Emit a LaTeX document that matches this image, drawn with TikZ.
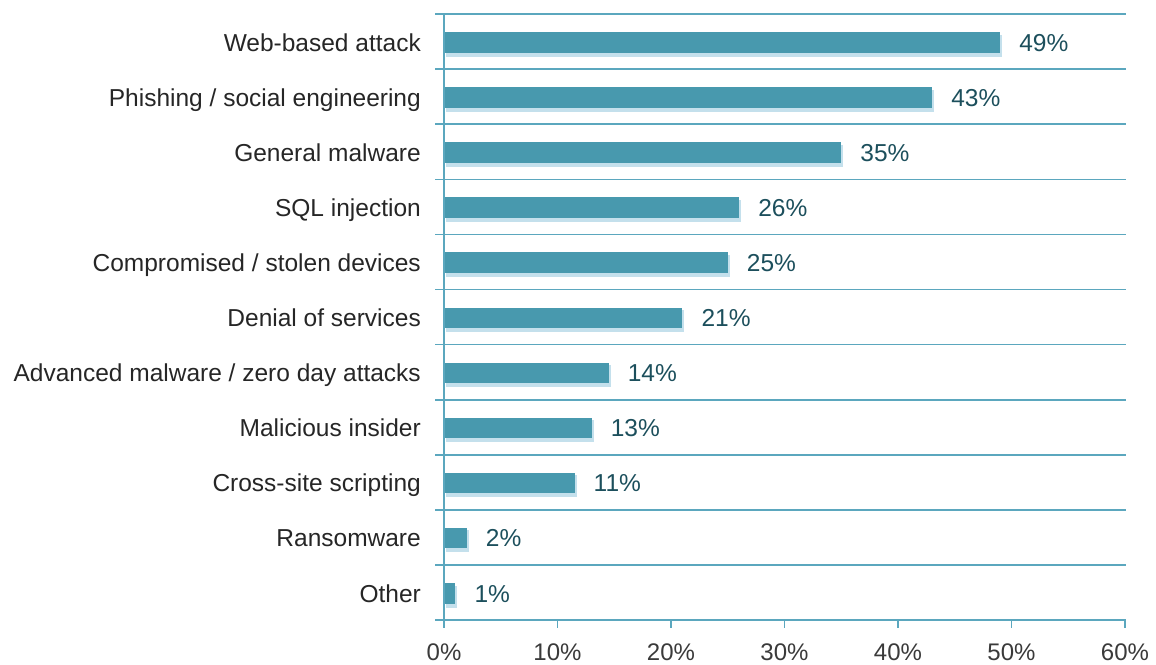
\documentclass[tikz,border=0pt]{standalone}
\usepackage{fontspec}
\setmainfont{Liberation Sans}
\definecolor{barblue}{HTML}{4899AE}
\definecolor{gridblue}{HTML}{5BA7BE}
\definecolor{shadeblue}{HTML}{C4E0EC}
\definecolor{valteal}{HTML}{1C4F5C}
\definecolor{labgray}{HTML}{262626}
\definecolor{tickgray}{HTML}{3A3A3A}

\begin{document}
\begin{tikzpicture}[x=1pt,y=-1pt,
  catlabel/.style={anchor=base east,inner sep=0pt,text=labgray,font=\fontsize{24.5}{28}\selectfont},
  vallabel/.style={anchor=base west,inner sep=0pt,text=valteal,font=\fontsize{24.5}{28}\selectfont},
  ticklabel/.style={anchor=base,inner sep=0pt,text=tickgray,font=\fontsize{24}{28}\selectfont},
  gridline/.style={draw=gridblue,line width=1.6pt}]
  \useasboundingbox (0,0) rectangle (1156,664);
  % grid lines and axes
  \foreach \k in {0,...,10}
    \draw[gridline] (435,14+55.1*\k) -- (1126,14+55.1*\k);
  \coordinate (origin) at (444,620);
  \coordinate (top) at (444,14);
  \coordinate (xend) at (1126,620);
  \draw[gridline] (435,620) -- (xend);
  \draw[gridline] (top) -- (444,628);
  \foreach \p [count=\j from 0] in {0,10,20,30,40,50,60} {
    \draw[gridline] (444+113.5*\j,620) -- (444+113.5*\j,628);
    \node[ticklabel] (tick\j) at (444+113.5*\j,660) {\p\%};
  }
  % bars
  \foreach \v/\l/\t [count=\i] in {49/49/{Web-based attack},43/43/{Phishing / social engineering},
      35/35/{General malware},26/26/{SQL injection},25/25/{Compromised / stolen devices},
      21/21/{Denial of services},14.5/14/{Advanced malware / zero day attacks},
      13/13/{Malicious insider},11.5/11/{Cross-site scripting},2/2/{Ransomware},1/1/{Other}} {
    \pgfmathsetmacro{\yc}{14+55.1*(\i-0.5)}
    \pgfmathsetmacro{\xe}{444+11.35*\v}
    \fill[shadeblue] (446,\yc-7) rectangle (\xe+2,\yc+15);
    \fill[barblue] (445,\yc-9.5) rectangle (\xe,\yc+11);
    \node[catlabel] (cat\i) at (421,\yc+9.5) {\t};
    \node[vallabel] (val\i) at (\xe+19,\yc+9.5) {\l\%};
  }
\end{tikzpicture}
\end{document}
